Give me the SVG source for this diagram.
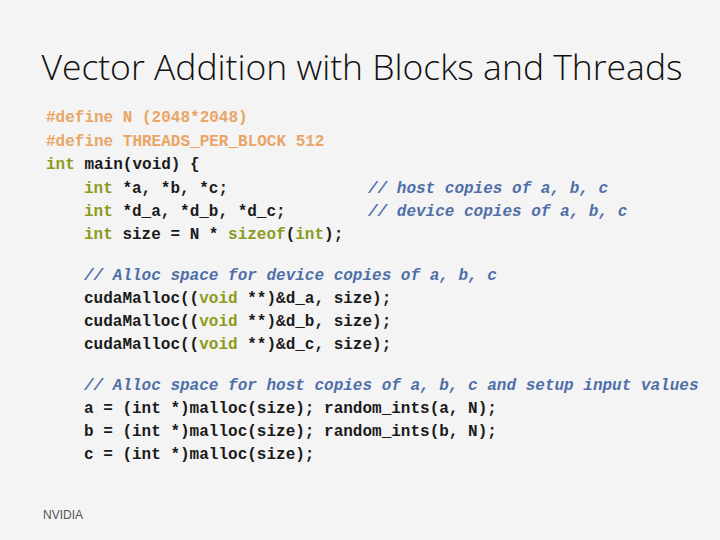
<svg xmlns="http://www.w3.org/2000/svg" width="720" height="540" viewBox="0 0 720 540">
<style>
.c{font-family:"Liberation Mono",monospace;font-size:16px;font-weight:bold;fill:#1a1a1a;white-space:pre}
.p{fill:#E9A466}.k{fill:#8C9B1C}.m{fill:#4F6FA8;font-style:italic}
</style>
<rect width="720" height="540" fill="#F4F4F4"/>
<text x="362" y="80" text-anchor="middle" font-family="Open Sans,sans-serif" font-weight="300" font-size="35.5" fill="#111">Vector Addition with Blocks and Threads</text>
<g id="code" class="c" xml:space="preserve">
<text x="46" y="122"><tspan class="p">#define N (2048*2048)</tspan></text>
<text x="46" y="146"><tspan class="p">#define THREADS_PER_BLOCK 512</tspan></text>
<text x="46" y="169"><tspan class="k">int</tspan> main(void) {</text>
<text x="84" y="193"><tspan class="k">int</tspan> *a, *b, *c;</text>
<text x="368" y="193" class="m">// host copies of a, b, c</text>
<text x="84" y="216"><tspan class="k">int</tspan> *d_a, *d_b, *d_c;</text>
<text x="368" y="216" class="m">// device copies of a, b, c</text>
<text x="84" y="239"><tspan class="k">int</tspan> size = N * <tspan class="k">sizeof</tspan>(<tspan class="k">int</tspan>);</text>
<text x="84" y="280" class="m">// Alloc space for device copies of a, b, c</text>
<text x="84" y="303">cudaMalloc((<tspan class="k">void</tspan> **)&amp;d_a, size);</text>
<text x="84" y="326">cudaMalloc((<tspan class="k">void</tspan> **)&amp;d_b, size);</text>
<text x="84" y="349">cudaMalloc((<tspan class="k">void</tspan> **)&amp;d_c, size);</text>
<text x="84" y="390" class="m">// Alloc space for host copies of a, b, c and setup input values</text>
<text x="84" y="413">a = (int *)malloc(size); random_ints(a, N);</text>
<text x="84" y="436">b = (int *)malloc(size); random_ints(b, N);</text>
<text x="84" y="459">c = (int *)malloc(size);</text>
</g>
<text x="43" y="519" font-family="Liberation Sans,sans-serif" font-size="12" fill="#555">NVIDIA</text>
</svg>
